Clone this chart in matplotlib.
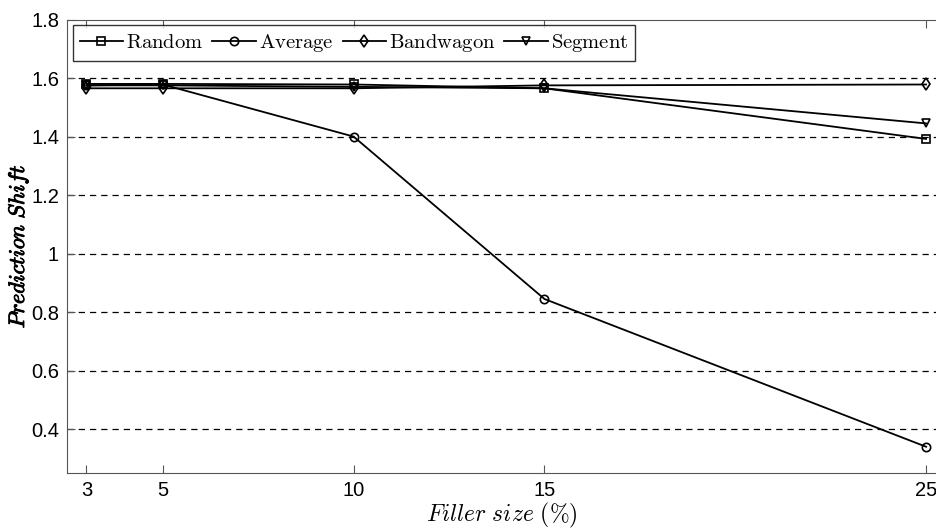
import matplotlib
matplotlib.use("Agg")
import matplotlib.pyplot as plt
import matplotlib.patheffects as pe

plt.rcParams.update({
    "mathtext.fontset": "cm",
    "font.family": ["Liberation Sans", "DejaVu Sans"],
})

filler = [3, 5, 10, 15, 25]
random_ps = [1.580, 1.580, 1.578, 1.565, 1.392]
average_ps = [1.575, 1.578, 1.400, 0.845, 0.340]
bandwagon_ps = [1.565, 1.565, 1.565, 1.575, 1.578]
segment_ps = [1.575, 1.575, 1.570, 1.565, 1.445]
yticks = [0.4, 0.6, 0.8, 1.0, 1.2, 1.4, 1.6, 1.8]
ytick_labels = ["0.4", "0.6", "0.8", "1", "1.2", "1.4", "1.6", "1.8"]

fig = plt.figure(figsize=(9.36, 5.28), dpi=100)
ax = fig.add_axes([0.072, 0.104, 0.928, 0.859])

series = [
    (r"$\mathrm{Random}$", random_ps, "s"),
    (r"$\mathrm{Average}$", average_ps, "o"),
    (r"$\mathrm{Bandwagon}$", bandwagon_ps, "d"),
    (r"$\mathrm{Segment}$", segment_ps, "v"),
]
for label, vals, mk in series:
    ax.plot(filler, vals, color="black", lw=1.3, marker=mk, ms=6,
            mfc="none", mec="black", mew=1.2, label=label)

ax.set_xlim(2.5, 25.26)
ax.set_ylim(0.25, 1.8)
ax.set_xticks(filler)
ax.set_yticks(yticks)
ax.set_yticklabels(ytick_labels)
ax.tick_params(direction="in", top=True, right=False, labelsize=14.5,
               length=6, color="#555555", pad=6)
for s in ["left", "bottom", "top"]:
    ax.spines[s].set_color("#555555")
ax.spines["right"].set_visible(False)

for y in yticks[:-1]:
    ax.axhline(y, color="black", lw=0.9, ls=(0, (5, 4)), zorder=0)

ax.set_xlabel(r"$Filler\ size\ (\%)$", fontsize=17, labelpad=0)
ylab = ax.set_ylabel(r"$Prediction\ Shift$", fontsize=16)
ylab.set_path_effects([pe.withStroke(linewidth=0.7, foreground="black")])
ax.yaxis.set_label_coords(-0.043, 0.5)

leg = ax.legend(loc="upper left", ncol=4, fontsize=14.8, frameon=True,
                fancybox=False, edgecolor="black", handlelength=2.1,
                handletextpad=0.15, columnspacing=0.45, borderpad=0.35,
                bbox_to_anchor=(0.0, 1.0), borderaxespad=0.25)
leg.get_frame().set_linewidth(1.0)

fig.savefig("out.png")
